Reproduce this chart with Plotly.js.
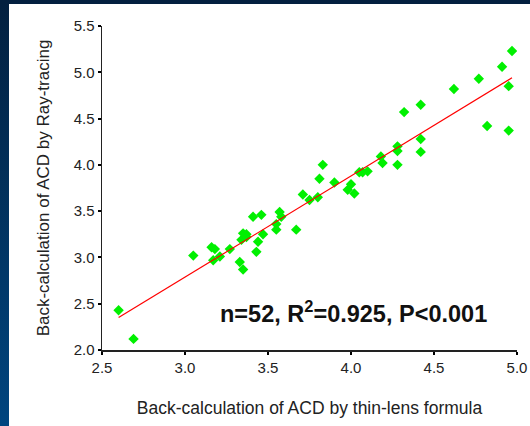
<!DOCTYPE html>
<html>
<head>
<meta charset="utf-8">
<script src="https://cdn.plot.ly/plotly-3.0.1.min.js"></script>
<style>
  html, body { margin: 0; padding: 0; background: #ffffff; }
  #wrap { position: relative; width: 530px; height: 426px; overflow: hidden; background: #ffffff; }
  #leftband { position: absolute; left: 0; top: 0; width: 9px; height: 426px;
              background: linear-gradient(to bottom, #03203f, #00457f); }
  #topband { position: absolute; left: 0; top: 0; width: 530px; height: 4px; background: #03203f; }
  #chart { position: absolute; left: 0; top: 0; width: 530px; height: 426px; }
</style>
</head>
<body>
<div id="wrap">
  <div id="chart"></div>
  <div id="leftband"></div>
  <div id="topband"></div>
</div>
<script>
// Back-calculated ACD values (mm)
var thinLensACD = [2.60, 2.69, 3.05, 3.16, 3.18, 3.17, 3.21, 3.27, 3.33, 3.35,
                   3.34, 3.35, 3.37, 3.37, 3.41, 3.43, 3.44, 3.46, 3.47, 3.55,
                   3.55, 3.57, 3.58, 3.67, 3.71, 3.75, 3.80, 3.81, 3.83, 3.90,
                   3.98, 4.00, 4.02, 4.05, 4.07, 4.10, 4.18, 4.19, 4.28, 4.28,
                   4.28, 4.32, 4.42, 4.42, 4.42, 4.62, 4.77, 4.82, 4.91, 4.95,
                   4.97, 4.95];
var rayTracingACD = [2.43, 2.12, 3.02, 3.11, 3.09, 2.97, 3.01, 3.09, 2.95, 2.87,
                     3.19, 3.26, 3.25, 3.22, 3.44, 3.06, 3.17, 3.46, 3.25, 3.36,
                     3.30, 3.49, 3.44, 3.30, 3.68, 3.62, 3.65, 3.85, 4.00, 3.81,
                     3.73, 3.79, 3.69, 3.92, 3.92, 3.93, 4.09, 4.02, 4.15, 4.20,
                     4.00, 4.57, 4.65, 4.28, 4.14, 4.82, 4.93, 4.42, 5.06, 4.85,
                     5.23, 4.37];
// Regression line end points
var fitX = [2.60, 4.97];
var fitY = [2.35, 4.94];

var xTicks = [2.5, 3.0, 3.5, 4.0, 4.5, 5.0];
var yTicks = [2.0, 2.5, 3.0, 3.5, 4.0, 4.5, 5.0, 5.5];
var tickText = function (arr) { return arr.map(function (v) { return v.toFixed(1); }); };

var statsText = "n=52, R<sup>2</sup>=0.925, P&lt;0.001";

var traces = [
  {
    x: thinLensACD, y: rayTracingACD, type: "scatter", mode: "markers",
    marker: { symbol: "diamond", size: 8, color: "#00f000", line: { width: 0 } },
    hoverinfo: "x+y"
  },
  {
    x: fitX, y: fitY, type: "scatter", mode: "lines",
    line: { color: "#ff0000", width: 1.2 },
    hoverinfo: "skip"
  }
];

var layout = {
  width: 530, height: 426,
  margin: { l: 101.5, r: 13, t: 25.7, b: 75.5 },
  paper_bgcolor: "rgba(0,0,0,0)",
  plot_bgcolor: "#ffffff",
  showlegend: false,
  font: { family: "Arial, 'Liberation Sans', sans-serif", color: "#222222", size: 15 },
  xaxis: {
    range: [2.5, 5.0],
    tickvals: xTicks, ticktext: tickText(xTicks),
    showgrid: false, zeroline: false,
    showline: true, linecolor: "#222222", linewidth: 1.5,
    ticks: "outside", ticklen: 3, tickwidth: 2, tickcolor: "#000000",
    tickfont: { size: 15, color: "#222222" },
    automargin: false,
    title: { text: "Back-calculation of ACD by thin-lens formula",
             font: { size: 17.5, color: "#222222" }, standoff: 27 }
  },
  yaxis: {
    range: [2.0, 5.5],
    tickvals: yTicks, ticktext: tickText(yTicks),
    showgrid: false, zeroline: false,
    showline: true, linecolor: "#222222", linewidth: 1.5,
    ticks: "outside", ticklen: 3, tickwidth: 2, tickcolor: "#000000",
    tickfont: { size: 15, color: "#222222" },
    automargin: false,
    title: { text: "Back-calculation of ACD by Ray-tracing",
             font: { size: 17, color: "#222222" }, standoff: 19 }
  },
  annotations: [
    {
      x: 4.013, y: 2.415, xref: "x", yref: "y",
      text: statsText, showarrow: false,
      font: { family: "Arial, 'Liberation Sans', sans-serif", size: 23.5, color: "#111111", weight: "bold" },
      xanchor: "center", yanchor: "middle"
    }
  ]
};

Plotly.newPlot("chart", traces, layout, { displayModeBar: false, staticPlot: true });
</script>
</body>
</html>
